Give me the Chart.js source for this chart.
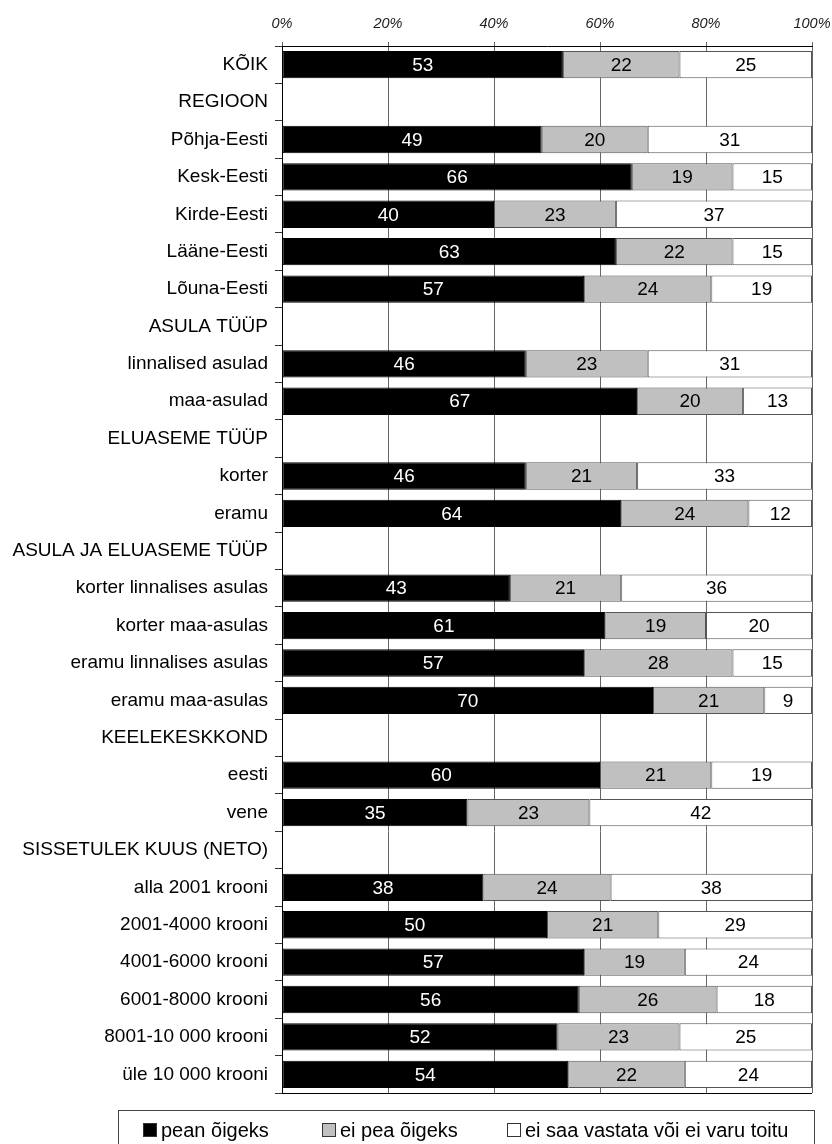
<!DOCTYPE html>
<html>
<head>
<meta charset="utf-8">
<script src="https://cdn.jsdelivr.net/npm/chart.js@4"></script>
<style>
  html, body { margin: 0; padding: 0; background: #fff; }
  #wrap { width: 832px; height: 1144px; position: relative; }
</style>
</head>
<body>
<div id="wrap"><canvas id="chart" width="832" height="1144"></canvas></div>
<script>
// Categories (header rows have no values)
const categories = [
    'KÕIK', 'REGIOON', 'Põhja-Eesti', 'Kesk-Eesti', 'Kirde-Eesti', 'Lääne-Eesti', 'Lõuna-Eesti',
    'ASULA TÜÜP', 'linnalised asulad', 'maa-asulad',
    'ELUASEME TÜÜP', 'korter', 'eramu',
    'ASULA JA ELUASEME TÜÜP', 'korter linnalises asulas', 'korter maa-asulas',
    'eramu linnalises asulas', 'eramu maa-asulas',
    'KEELEKESKKOND', 'eesti', 'vene',
    'SISSETULEK KUUS (NETO)', 'alla 2001 krooni', '2001-4000 krooni', '4001-6000 krooni',
    '6001-8000 krooni', '8001-10 000 krooni', 'üle 10 000 krooni'
];

const seriesNames = ['pean õigeks', 'ei pea õigeks', 'ei saa vastata või ei varu toitu'];

const peanOigeks = [53, null, 49, 66, 40, 63, 57, null, 46, 67, null, 46, 64, null, 43, 61, 57, 70,
    null, 60, 35, null, 38, 50, 57, 56, 52, 54];
const eiPeaOigeks = [22, null, 20, 19, 23, 22, 24, null, 23, 20, null, 21, 24, null, 21, 19, 28, 21,
    null, 21, 23, null, 24, 21, 19, 26, 23, 22];
const eiSaaVastata = [25, null, 31, 15, 37, 15, 19, null, 31, 13, null, 33, 12, null, 36, 20, 15, 9,
    null, 19, 42, null, 38, 29, 24, 18, 25, 24];

const xTicks = [0, 20, 40, 60, 80, 100];

const fontFamily = '"Liberation Sans", Arial, sans-serif';

// Value labels in the middle of each segment
const valueLabels = {
    id: 'valueLabels',
    afterDatasetsDraw(chart) {
        const ctx = chart.ctx;
        ctx.save();
        ctx.font = '19px ' + fontFamily;
        ctx.textAlign = 'center';
        ctx.textBaseline = 'middle';
        chart.data.datasets.forEach(function (ds, i) {
            const meta = chart.getDatasetMeta(i);
            meta.data.forEach(function (bar, j) {
                const v = ds.data[j];
                if (v === null || v === undefined) return;
                ctx.fillStyle = i === 0 ? '#ffffff' : '#000000';
                ctx.fillText(String(v), (bar.x + bar.base) / 2, bar.y + 1);
            });
        });
        ctx.restore();
    }
};

// Bottom frame line and boxed legend
const frameAndLegend = {
    id: 'frameAndLegend',
    afterDraw(chart) {
        const ctx = chart.ctx;
        const a = chart.chartArea;
        ctx.save();
        ctx.strokeStyle = '#000';
        ctx.lineWidth = 1;
        ctx.beginPath();
        ctx.moveTo(a.left, Math.round(a.bottom) + 0.5);
        ctx.lineTo(a.right, Math.round(a.bottom) + 0.5);
        ctx.stroke();

        // legend box
        ctx.strokeStyle = '#444';
        ctx.strokeRect(118.5, 1110.5, 696, 50);
        const itemX = [143, 322, 507];
        ctx.font = '20px ' + fontFamily;
        ctx.textBaseline = 'middle';
        ctx.textAlign = 'left';
        chart.data.datasets.forEach(function (ds, i) {
            ctx.fillStyle = ds.backgroundColor;
            ctx.fillRect(itemX[i], 1123, 14, 14);
            ctx.strokeStyle = '#333';
            ctx.strokeRect(itemX[i] + 0.5, 1123.5, 13, 13);
            ctx.fillStyle = '#000';
            ctx.fillText(ds.label, itemX[i] + 18, 1131);
        });
        ctx.restore();
    }
};

new Chart(document.getElementById('chart'), {
    type: 'bar',
    data: {
        labels: categories,
        datasets: [
            { label: seriesNames[0], data: peanOigeks, backgroundColor: '#000000', borderColor: '#000000' },
            { label: seriesNames[1], data: eiPeaOigeks, backgroundColor: '#c0c0c0', borderColor: '#555555' },
            { label: seriesNames[2], data: eiSaaVastata, backgroundColor: '#ffffff', borderColor: '#555555' }
        ]
    },
    options: {
        indexAxis: 'y',
        responsive: false,
        animation: false,
        datasets: {
            bar: {
                borderWidth: 1,
                borderSkipped: false,
                categoryPercentage: 0.73,
                barPercentage: 1.0
            }
        },
        layout: { padding: { top: 0, right: 20, bottom: 51, left: 0 } },
        plugins: {
            legend: { display: false },
            tooltip: { enabled: false }
        },
        scales: {
            x: {
                position: 'top',
                stacked: true,
                min: 0,
                max: 100,
                afterBuildTicks(scale) {
                    scale.ticks = xTicks.map(function (v) { return { value: v }; });
                },
                afterFit(scale) {
                    scale.height = 46;
                    scale.paddingLeft = 0;
                    scale.paddingRight = 0;
                },
                ticks: {
                    padding: 9,
                    color: '#222',
                    font: { family: fontFamily, size: 14.5, style: 'italic' },
                    callback: function (v) { return v + '%'; },
                    maxRotation: 0
                },
                grid: { color: '#666', tickLength: 4, lineWidth: 1 },
                border: { color: '#000', width: 1 }
            },
            y: {
                stacked: true,
                afterFit(scale) { scale.width = 282; },
                ticks: {
                    padding: 7,
                    color: '#000',
                    font: { family: fontFamily, size: 19 },
                    autoSkip: false
                },
                grid: { offset: true, drawOnChartArea: false, tickLength: 7, color: '#333' },
                border: { color: '#000', width: 1 }
            }
        }
    },
    plugins: [valueLabels, frameAndLegend]
});
</script>
</body>
</html>
